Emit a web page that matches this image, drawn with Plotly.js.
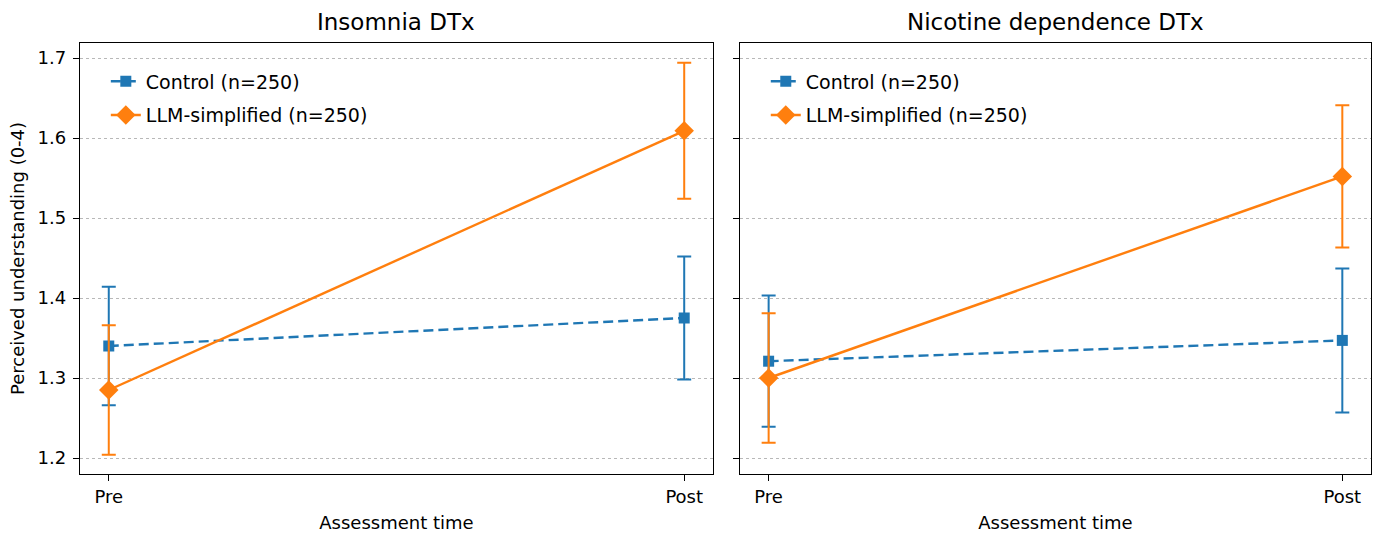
<!DOCTYPE html>
<html><head><meta charset="utf-8">
<script src="https://cdn.plot.ly/plotly-3.0.1.min.js"></script>
<style>html,body{margin:0;padding:0;background:#fff;}</style>
</head><body>
<div id="chart" style="width:1378px;height:536px;"></div>
<script>
const timepoints = ["Pre", "Post"];
const panels = ["Insomnia DTx", "Nicotine dependence DTx"];
const groups = ["Control (n=250)", "LLM-simplified (n=250)"];
const insomniaControl = [1.340, 1.375];
const insomniaControlErr = [0.074, 0.077];
const insomniaLLM = [1.285, 1.609];
const insomniaLLMErr = [0.081, 0.085];
const nicotineControl = [1.321, 1.347];
const nicotineControlErr = [0.082, 0.090];
const nicotineLLM = [1.300, 1.552];
const nicotineLLMErr = [0.081, 0.089];

const blue = "#1f77b4", orange = "#ff7f0e";
const xs = [0, 1];
function tr(y, err, name, color, dash, sym, size, xa, ya, leg, grp) {
  return {
    x: xs, y: y, name: name, type: "scatter", mode: "lines+markers",
    xaxis: xa, yaxis: ya, legend: leg, legendgroup: grp,
    line: {color: color, width: 2.4, dash: dash},
    marker: {color: color, symbol: sym, size: size},
    error_y: {type: "data", array: err, visible: true, color: color, thickness: 2, width: 7}
  };
}
const data = [
  tr(insomniaControl, insomniaControlErr, groups[0], blue, "10px,5px", "square", 11, "x", "y", "legend", "a"),
  tr(insomniaLLM, insomniaLLMErr, groups[1], orange, "solid", "diamond", 15, "x", "y", "legend", "b"),
  tr(nicotineControl, nicotineControlErr, groups[0], blue, "10px,5px", "square", 11, "x2", "y2", "legend2", "c"),
  tr(nicotineLLM, nicotineLLMErr, groups[1], orange, "solid", "diamond", 15, "x2", "y2", "legend2", "d")
];
const fam = "DejaVu Sans, sans-serif";
const font = {family: fam, size: 18, color: "#000"};
const xaxBase = {
  range: [-0.05, 1.05], tickvals: xs, ticktext: timepoints,
  showline: true, mirror: true, linecolor: "#000", linewidth: 1.2,
  ticks: "outside", ticklen: 6, tickcolor: "#000", showgrid: false, zeroline: false,
  tickfont: {family: fam, size: 18}
};
const yaxBase = {
  range: [1.18, 1.71875], tickvals: [1.2, 1.3, 1.4, 1.5, 1.6, 1.7], tickformat: ".1f",
  showline: true, mirror: true, linecolor: "#000", linewidth: 1.2,
  ticks: "outside", ticklen: 6, tickcolor: "#000", ticklabelstandoff: 3,
  showgrid: true, gridcolor: "#b8b8b8", griddash: "dot", gridwidth: 1, zeroline: false,
  tickfont: {family: fam, size: 18}
};
const legBase = {
  y: 0.955, xanchor: "left", yanchor: "top",
  bgcolor: "rgba(255,255,255,0.8)", borderwidth: 0, tracegroupgap: 6,
  font: {family: fam, size: 19}
};
const layout = {
  width: 1378, height: 536,
  margin: {l: 80, r: 7, t: 43, b: 62},
  paper_bgcolor: "#fff", plot_bgcolor: "#fff",
  font: font,
  showlegend: true,
  xaxis: Object.assign({}, xaxBase, {domain: [0, 0.4903], anchor: "y",
    title: {text: "Assessment time", font: {family: fam, size: 18}, standoff: 10}}),
  xaxis2: Object.assign({}, xaxBase, {domain: [0.5112, 1], anchor: "y2",
    title: {text: "Assessment time", font: {family: fam, size: 18}, standoff: 10}}),
  yaxis: Object.assign({}, yaxBase, {anchor: "x",
    title: {text: "Perceived understanding (0-4)", font: {family: fam, size: 18}, standoff: 8}}),
  yaxis2: Object.assign({}, yaxBase, {anchor: "x2", showticklabels: false}),
  legend: Object.assign({}, legBase, {xref: "paper", yref: "paper", x: 0.020}),
  legend2: Object.assign({}, legBase, {xref: "paper", yref: "paper", x: 0.5112 + 0.020}),
  annotations: [
    {text: panels[0], x: 0.24515, y: 1, xref: "paper", yref: "paper", yanchor: "bottom", xanchor: "center",
     yshift: 6, showarrow: false, font: {family: fam, size: 23}},
    {text: panels[1], x: 0.7556, y: 1, xref: "paper", yref: "paper", yanchor: "bottom", xanchor: "center",
     yshift: 6, showarrow: false, font: {family: fam, size: 23}}
  ]
};
Plotly.newPlot("chart", data, layout, {displayModeBar: false, staticPlot: true});
</script>
</body></html>
